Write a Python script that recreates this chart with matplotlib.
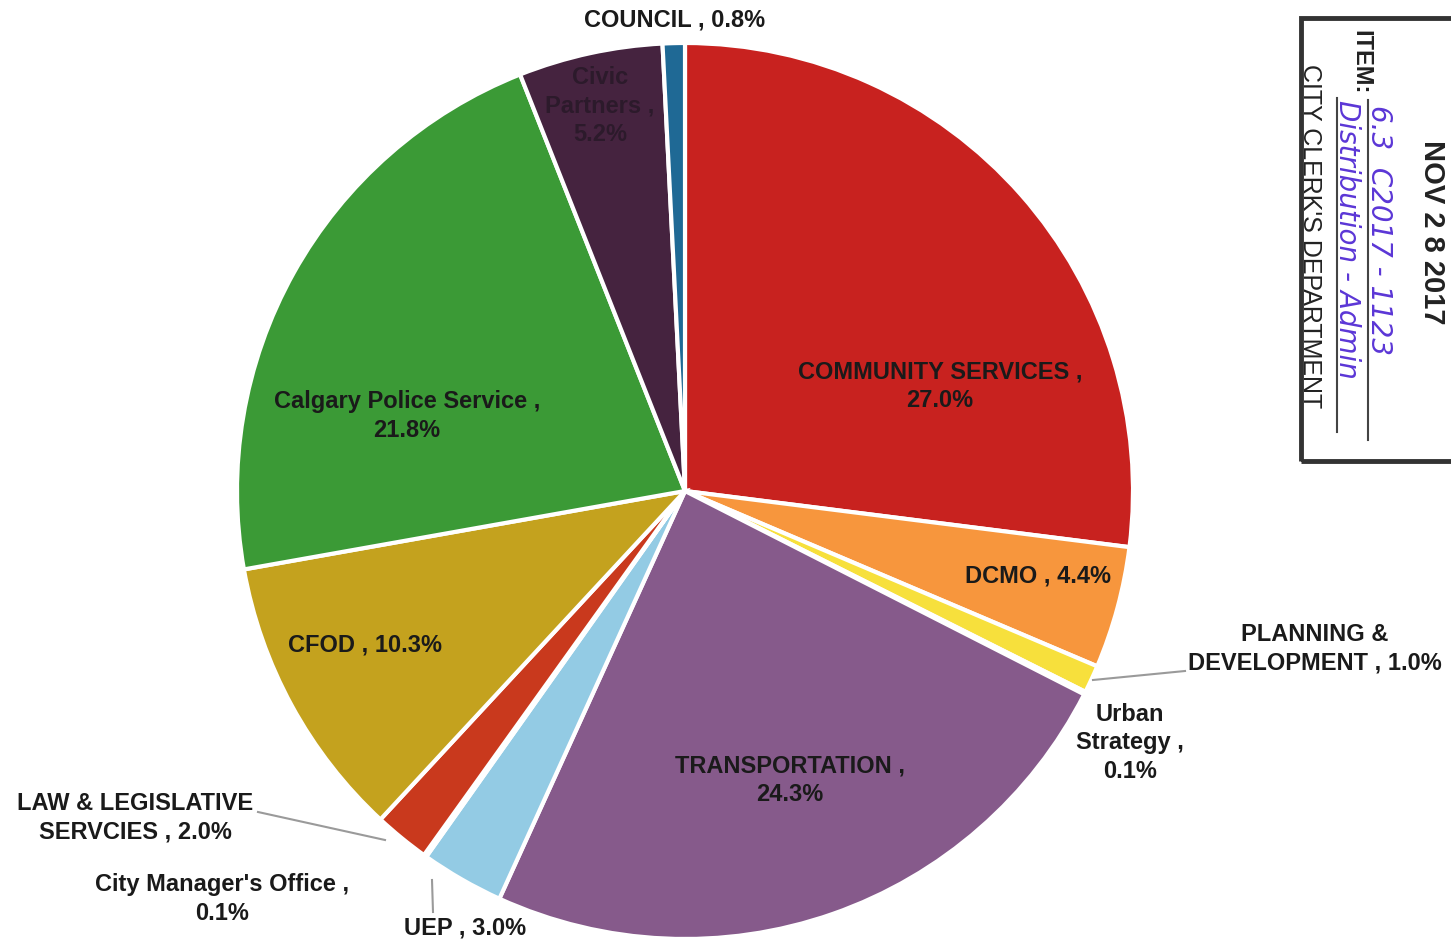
import matplotlib
matplotlib.use("Agg")
import matplotlib.pyplot as plt
from matplotlib.patches import Rectangle

# departments in clockwise order from 12 o'clock
departments = ["COMMUNITY SERVICES", "DCMO", "PLANNING &\nDEVELOPMENT", "Urban\nStrategy",
               "TRANSPORTATION", "UEP", "City Manager's Office", "LAW & LEGISLATIVE\nSERVCIES",
               "CFOD", "Calgary Police Service", "Civic\nPartners", "COUNCIL"]
shares = [27.0, 4.4, 1.0, 0.1, 24.3, 3.0, 0.1, 2.0, 10.3, 21.8, 5.2, 0.8]
colors = ["#c8221f", "#f7963d", "#f7e03c", "#d9d9d9", "#865a8b", "#93cbe4",
          "#bbbbbb", "#c9391d", "#c4a21e", "#3b9a36", "#45233f", "#1f6995"]

W, H = 1451, 942
fig = plt.figure(figsize=(W / 100, H / 100), dpi=100)
ax = fig.add_axes([0, 0, 1, 1])


def py(y):
    # picture rows count from the top
    return H - y


ax.pie(shares, colors=colors, startangle=90, counterclock=False,
       center=(685, py(491)), radius=448, frame=True,
       wedgeprops=dict(edgecolor="white", linewidth=3))
ax.set_xlim(0, W)
ax.set_ylim(0, H)
ax.set_aspect("equal")
ax.axis("off")

font = dict(family=["Liberation Sans", "DejaVu Sans"], fontsize=17,
            fontweight="bold", color="#1a1a1a", ha="center", va="center",
            linespacing=1.3)


def fmt(i):
    return f"{departments[i]} , {shares[i]:.1f}%"


# labels inside the slices
ax.text(940, py(386), f"{departments[0]} ,\n{shares[0]:.1f}%", **font)
ax.text(1038, py(576), fmt(1), **font)
ax.text(790, py(780), f"{departments[4]} ,\n{shares[4]:.1f}%", **font)
ax.text(365, py(645), fmt(8), **font)
ax.text(407, py(416), f"{departments[9]} ,\n{shares[9]:.1f}%", **font)
ax.text(600, py(106), f"{departments[10]} ,\n{shares[10]:.1f}%",
        **{**font, "color": "#2c1a2b"})

# labels outside the pie
ax.text(675, py(20), fmt(11), **font)
ax.text(1315, py(649), f"PLANNING &\nDEVELOPMENT , {shares[2]:.1f}%", **font)
ax.text(1130, py(743), f"Urban\nStrategy ,\n{shares[3]:.1f}%", **font)
ax.text(135, py(818), f"LAW & LEGISLATIVE\nSERVCIES , {shares[7]:.1f}%", **font)
ax.text(222, py(899), f"{departments[6]} ,\n{shares[6]:.1f}%", **font)
ax.text(465, py(928), fmt(5), **font)

# leader lines
lead = dict(color="#9a9a9a", linewidth=1.5)
ax.plot([1093, 1185], [py(680), py(671)], **lead)
ax.plot([258, 385], [py(812), py(840)], **lead)
ax.plot([432, 433], [py(880), py(912)], **lead)

# clerk's stamp
ax.add_patch(Rectangle((1301, py(461)), 170, 443, fill=False,
                       edgecolor="#333333", linewidth=3.5))
sfam = ["Liberation Sans", "DejaVu Sans"]
ax.text(1432, py(232), "NOV 2 8 2017", fontsize=21, fontweight="bold",
        family=sfam, color="#222222", rotation=-90, ha="center", va="center")
ax.text(1361, py(30), "ITEM:", fontsize=17, fontweight="bold", ha="center", va="top",
        family=sfam, color="#222222", rotation=-90)
ax.text(1310, py(64), "CITY CLERK'S DEPARTMENT", fontsize=18, ha="center", va="top",
        family=sfam, color="#222222", rotation=-90)
hand = dict(family=["DejaVu Sans"], color="#5b36d6", rotation=-90,
            ha="center", va="top", fontsize=20, style="italic")
ax.text(1379, py(105), "6.3  C2017 - 1123", **hand)
ax.text(1347, py(100), "Distribution - Admin", **hand)
ax.plot([1368, 1368], [py(100), py(440)], color="#444444", linewidth=1.5)
ax.plot([1337, 1337], [py(98), py(432)], color="#444444", linewidth=1.5)

fig.savefig("out.png", dpi=100)
